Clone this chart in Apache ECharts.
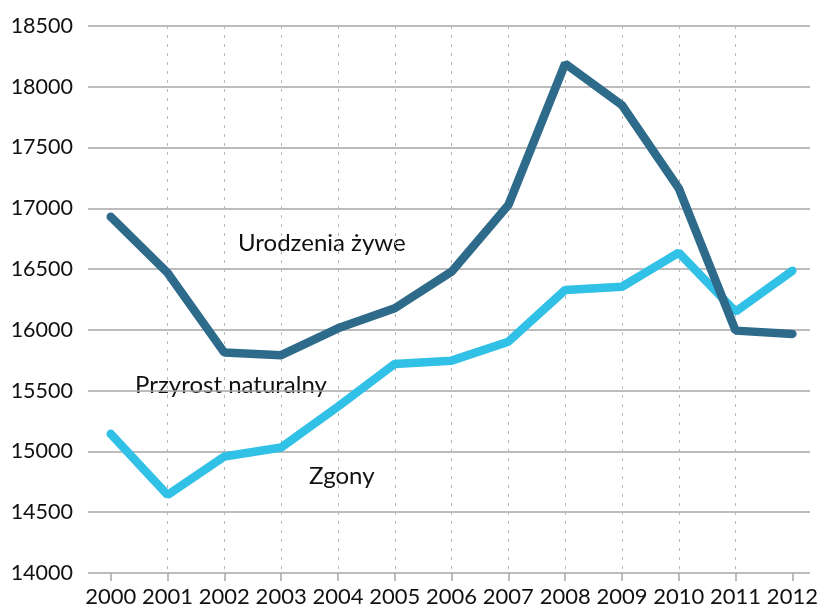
<!DOCTYPE html>
<html>
<head>
<meta charset="utf-8">
<script src="https://cdn.jsdelivr.net/npm/echarts@6/dist/echarts.min.js"></script>
<style>
  html, body { margin: 0; padding: 0; background: #fff; }
  #chart { width: 819px; height: 606px; }
</style>
</head>
<body>
<div id="chart"></div>
<script>
// lata
const years = [2000, 2001, 2002, 2003, 2004, 2005, 2006, 2007, 2008, 2009, 2010, 2011, 2012]
// Urodzenia żywe
const births = [16930, 16470, 15813, 15792, 16013, 16178, 16479, 17027, 18190, 17849, 17164, 15994, 15967]
// Zgony
const deaths = [15145, 14642, 14958, 15032, 15369, 15720, 15747, 15903, 16328, 16355, 16635, 16150, 16487]

const font = 'Lato'

const chart = echarts.init(document.getElementById('chart'))
chart.setOption({
  animation: false,
  grid: {
    left: 88,
    right: 9,
    top: 26,
    bottom: 33,
    containLabel: false,
    outerBoundsMode: 'none'
  },
  xAxis: {
    type: 'value',
    min: 1999.6,
    max: 2012.31,
    interval: 1,
    axisLine: { show: false },
    axisTick: {
      show: true,
      length: 8,
      customValues: years,
      lineStyle: { color: '#a6a6a6', width: 1.5 }
    },
    axisLabel: {
      customValues: years,
      margin: 13,
      color: '#111',
      fontFamily: font,
      fontSize: 22,
      formatter: v => String(Math.round(v))
    },
    splitLine: {
      show: true,
      showMinLine: false,
      showMaxLine: false,
      lineStyle: { color: '#b8b8b8', type: [3, 6], width: 1 }
    }
  },
  yAxis: {
    type: 'value',
    min: 14000,
    max: 18500,
    interval: 500,
    axisLine: { show: false },
    axisTick: { show: false },
    axisLabel: {
      margin: 15,
      color: '#111',
      fontFamily: font,
      fontSize: 21.5,
      formatter: v => String(v)
    },
    splitLine: {
      show: true,
      lineStyle: { color: '#a6a6a6', width: 1.5 }
    }
  },
  graphic: [
    { type: 'text', left: 238, top: 231, style: { text: 'Urodzenia żywe', font: '24px Lato', fill: '#111' } },
    { type: 'text', left: 135, top: 373, style: { text: 'Przyrost naturalny', font: '24px Lato', fill: '#111' } },
    { type: 'text', left: 309, top: 464, style: { text: 'Zgony', font: '24px Lato', fill: '#111' } }
  ],
  series: [
    {
      name: 'Zgony',
      type: 'line',
      data: years.map((y, i) => [y, deaths[i]]),
      symbol: 'none',
      lineStyle: { color: '#31c0e6', width: 8.5, cap: 'round' }
    },
    {
      name: 'Urodzenia żywe',
      type: 'line',
      data: years.map((y, i) => [y, births[i]]),
      symbol: 'none',
      lineStyle: { color: '#2e6b8b', width: 8.5, cap: 'round' }
    }
  ]
})
</script>
</body>
</html>
